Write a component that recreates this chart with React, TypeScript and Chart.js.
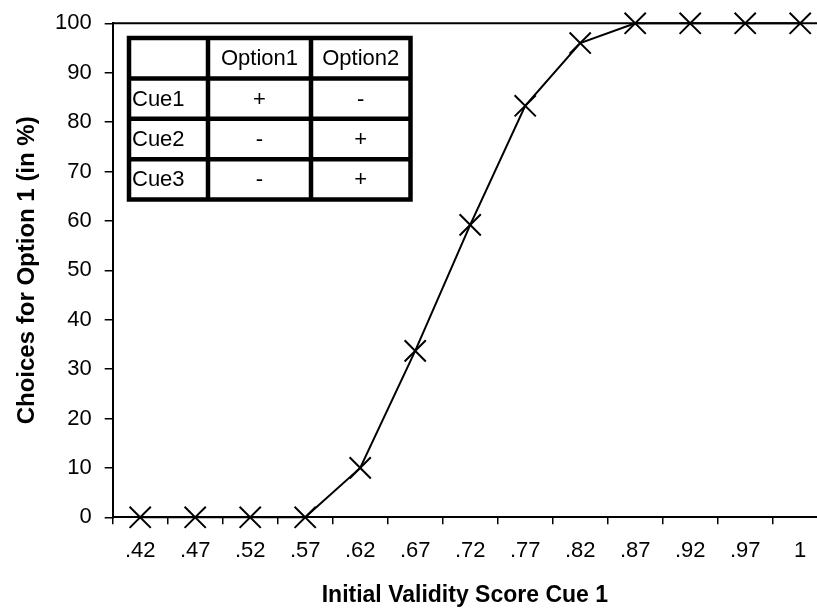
import React, { useEffect, useRef } from "react";
import { Chart, registerables } from "chart.js";

Chart.register(...registerables);

const categories = [".42", ".47", ".52", ".57", ".62", ".67", ".72", ".77", ".82", ".87", ".92", ".97", "1"];
const choicesOption1 = [0, 0, 0, 0, 10, 33.7, 59.2, 83.3, 96, 100, 100, 100, 100];
const yTicks = [0, 10, 20, 30, 40, 50, 60, 70, 80, 90, 100];
const tableHeader = ["", "Option1", "Option2"];
const tableRows = [
  ["Cue1", "+", "-"],
  ["Cue2", "-", "+"],
  ["Cue3", "-", "+"],
];

const FONT = "'Liberation Sans', Arial, Helvetica, sans-serif";

const framePlugin = {
  id: "frameAndTable",
  afterDatasetsDraw(chart: any) {
    const { ctx, chartArea } = chart;
    ctx.save();
    // top frame line
    ctx.strokeStyle = "#000";
    ctx.lineWidth = 2;
    ctx.beginPath();
    ctx.moveTo(chartArea.left, chartArea.top);
    ctx.lineTo(chartArea.right, chartArea.top);
    ctx.stroke();

    // table
    const x0 = chartArea.left + 16.3;
    const y0 = chartArea.top + 14.7;
    const colW = [79, 103, 99.5];
    const rowH = 40.4;
    const allRows = [tableHeader, ...tableRows];
    const totalW = colW.reduce((a, b) => a + b, 0);
    const totalH = rowH * allRows.length;
    ctx.fillStyle = "#fff";
    ctx.fillRect(x0, y0, totalW, totalH);
    ctx.lineWidth = 4.5;
    ctx.strokeStyle = "#000";
    ctx.beginPath();
    let cx = x0;
    for (let c = 0; c <= colW.length; c++) {
      ctx.moveTo(cx, y0 - 2.25);
      ctx.lineTo(cx, y0 + totalH + 2.25);
      if (c < colW.length) cx += colW[c];
    }
    for (let r = 0; r <= allRows.length; r++) {
      const yy = y0 + r * rowH;
      ctx.moveTo(x0 - 2.25, yy);
      ctx.lineTo(x0 + totalW + 2.25, yy);
    }
    ctx.stroke();

    ctx.fillStyle = "#000";
    ctx.font = `22px ${FONT}`;
    ctx.textBaseline = "middle";
    allRows.forEach((row, r) => {
      let left = x0;
      row.forEach((txt, c) => {
        const cy = y0 + r * rowH + rowH / 2 + 1;
        if (c === 0) {
          ctx.textAlign = "left";
          ctx.fillText(txt, left + 3, cy);
        } else {
          ctx.textAlign = "center";
          ctx.fillText(txt, left + colW[c] / 2, cy);
        }
        left += colW[c];
      });
    });
    ctx.restore();
  },
};

export default function App() {
  const canvasRef = useRef<HTMLCanvasElement | null>(null);

  useEffect(() => {
    const canvas = canvasRef.current;
    if (!canvas) return;
    const unit = 55;
    const leftPx = 112.7;
    const xMax = (817 - leftPx) / unit - 0.5;
    const chart = new Chart(canvas, {
      type: "line",
      data: {
        datasets: [
          {
            data: choicesOption1.map((v, i) => ({ x: i, y: v })),
            borderColor: "#000",
            borderWidth: 2,
            pointStyle: "crossRot",
            pointRadius: 15,
            pointHoverRadius: 15,
            pointBorderColor: "#000",
            pointBorderWidth: 2,
            pointBackgroundColor: "#000",
            tension: 0,
            fill: false,
            clip: false as any,
          },
        ],
      },
      options: {
        responsive: false,
        animation: false,
        events: [],
        layout: { autoPadding: false, padding: { top: 23.3, right: 0, bottom: 0, left: 0 } },
        plugins: {
          legend: { display: false },
          tooltip: { enabled: false },
          title: { display: false },
        },
        scales: {
          x: {
            type: "linear",
            min: -0.5,
            max: xMax,
            afterBuildTicks: (scale: any) => {
              scale.ticks = categories.map((_, i) => ({ value: i }));
            },
            afterFit: (scale: any) => {
              scale.height = 610 - 517.3;
              scale.paddingLeft = 0;
              scale.paddingRight = 0;
            },
            ticks: {
              autoSkip: false,
              maxRotation: 0,
              minRotation: 0,
              padding: 13,
              color: "#000",
              font: { family: FONT, size: 22 },
              callback: (v: any) => categories[Math.round(Number(v))] ?? "",
            },
            grid: {
              offset: true,
              drawOnChartArea: false,
              drawTicks: true,
              tickLength: 7,
              color: "#000",
              lineWidth: 1.5,
            },
            border: { display: true, color: "#000", width: 2 },
            title: {
              display: true,
              text: "Initial Validity Score Cue 1",
              color: "#000",
              font: { family: FONT, size: 23, weight: "bold" },
              padding: { top: 0, bottom: 1 },
            },
          },
          y: {
            type: "linear",
            min: 0,
            max: 100,
            afterBuildTicks: (scale: any) => {
              scale.ticks = yTicks.map((v) => ({ value: v }));
            },
            afterFit: (scale: any) => {
              scale.width = leftPx;
              scale.paddingTop = 0;
              scale.paddingBottom = 0;
            },
            ticks: {
              padding: 13,
              color: "#000",
              font: { family: FONT, size: 22 },
            },
            grid: {
              drawOnChartArea: false,
              drawTicks: true,
              tickLength: 8,
              color: "#000",
              lineWidth: 1.5,
            },
            border: { display: true, color: "#000", width: 2 },
            title: {
              display: true,
              text: "Choices for Option 1 (in %)",
              color: "#000",
              font: { family: FONT, size: 24, weight: "bold" },
              padding: { top: 13, bottom: 0 },
            },
          },
        },
      },
      plugins: [framePlugin],
    });
    return () => chart.destroy();
  }, []);

  return (
    <div style={{ position: "fixed", left: 0, top: 0, width: 817, height: 610, background: "#fff" }}>
      <canvas ref={canvasRef} width={817} height={610} style={{ display: "block" }} />
    </div>
  );
}
